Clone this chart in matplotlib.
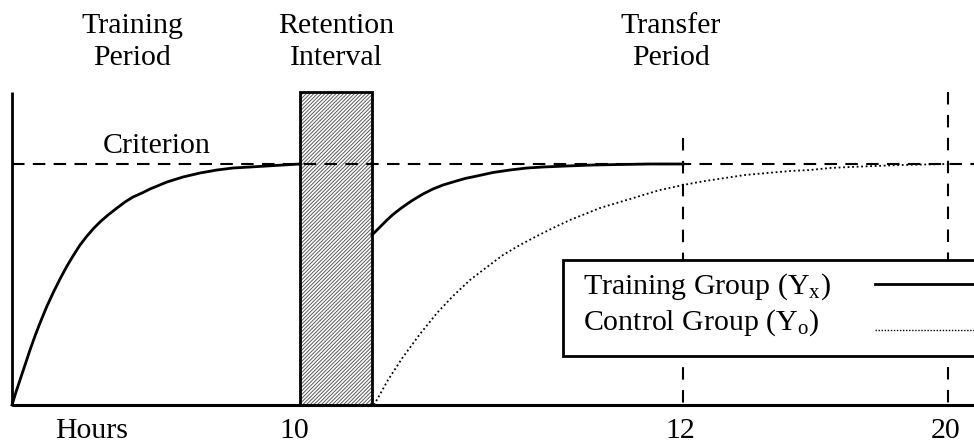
import matplotlib.pyplot as plt
from matplotlib.patches import Rectangle

plt.rcParams['font.family'] = ['Liberation Serif', 'DejaVu Serif']
plt.rcParams['mathtext.fontset'] = 'custom'
plt.rcParams['mathtext.rm'] = 'Liberation Serif'
plt.rcParams['mathtext.it'] = 'Liberation Serif'
plt.rcParams['hatch.linewidth'] = 0.7

# schematic coordinates (left->right time, top->bottom inverted performance)
base_y = 405
criterion_y = 164
top_y = 92
x0 = 12
retention = (300, 372)
marks = [683, 948]
mark_tops = [138, 92]

# training group, training period
train1_x = [12, 16, 20, 25, 30, 35, 40, 47, 54, 60, 67, 73, 80, 87, 94, 100, 108, 117, 125,
            133, 142, 150, 167, 183, 200, 217, 233, 250, 267, 283, 300]
train1_y = [405, 392, 380, 365, 350, 336, 323, 306, 291, 279, 266, 256, 245, 236, 228, 222,
            215, 208, 202, 197, 193, 189, 182, 177, 173, 170, 168, 167, 166, 165, 164]
# training group, transfer period
train2_x = [372, 380, 387, 393, 400, 407, 413, 423, 433, 443, 453, 465, 477, 493, 510, 527,
            543, 567, 593, 620, 650, 683]
train2_y = [235, 227, 220, 214.5, 209, 204, 200, 194, 189, 185, 182, 178.5, 176, 172.5, 170, 168,
            167, 166, 165, 164.5, 164, 164]
# control group
ctrl_x = [374, 388, 403, 420, 437, 453, 470, 487, 503, 520, 537, 553, 570, 585, 600, 620,
          640, 660, 683, 705, 725, 745, 767, 790, 810, 830, 850, 875, 900, 925, 947]
ctrl_y = [405, 380, 357, 334, 313, 296, 280, 267, 255, 245, 236, 228, 220, 214, 208, 202,
          196, 190, 185, 181, 178, 175, 173, 171, 170, 168, 167, 166, 165, 164.5, 164]

top_labels = ['Training\nPeriod', 'Retention\nInterval', 'Transfer\nPeriod']
top_label_x = [132, 336, 671]
bottom_labels = ['Hours', '10', '12', '20']
bottom_label_x = [92, 294, 680, 946]

fig = plt.figure(figsize=(9.74, 4.47), dpi=100)
ax = fig.add_axes([0, 0, 1, 1])
ax.set_xlim(0, 974)
ax.set_ylim(447, 0)
ax.axis('off')

fs = 21.5

# axes
ax.plot([x0, x0], [top_y, base_y], color='black', lw=2, solid_capstyle='butt')
ax.plot([x0, 974], [base_y, base_y], color='black', lw=2.2, solid_capstyle='butt')

# criterion
ax.plot([x0, 974], [criterion_y, criterion_y], color='black', lw=1.5, dashes=(6, 4))
ax.text(157, 146, 'Criterion', fontsize=fs, ha='center', va='center')

# vertical markers
for mx, mt in zip(marks, mark_tops):
    ax.plot([mx, mx], [mt, base_y], color='black', lw=1.5, dashes=(6, 5))

# retention interval
ax.add_patch(Rectangle((retention[0], top_y), retention[1] - retention[0], base_y - top_y,
                       facecolor='white', edgecolor='#5a5a5a', hatch='/////////', lw=0))
ax.add_patch(Rectangle((retention[0], top_y), retention[1] - retention[0], base_y - top_y,
                       facecolor='none', edgecolor='black', lw=2))

# curves
ax.plot(train1_x, train1_y, color='black', lw=2)
ax.plot(train2_x, train2_y, color='black', lw=2)
ax.plot(ctrl_x, ctrl_y, color='black', lw=1.3, linestyle=(0, (1, 1.5)))

# labels
for lab, lx in zip(top_labels, top_label_x):
    ax.text(lx, 42, lab, fontsize=fs, ha='center', va='center', linespacing=1.3)
for lab, lx in zip(bottom_labels, bottom_label_x):
    ax.text(lx, 431, lab, fontsize=fs, ha='center', va='center')

# legend
ax.add_patch(Rectangle((563, 260), 500, 96, facecolor='white', edgecolor='black', lw=2, zorder=5))
ax.text(583, 287, r'Training Group (Y$_{\mathrm{x}}$)', fontsize=fs, ha='left', va='center', zorder=6)
ax.text(583, 323, r'Control Group (Y$_{\mathrm{o}}$)', fontsize=fs, ha='left', va='center', zorder=6)
ax.plot([875, 974], [284, 284], color='black', lw=2, zorder=6)
ax.plot([875, 974], [330, 330], color='black', lw=1.0, linestyle=(0, (1, 1.2)), zorder=6)

fig.savefig('out.png', dpi=100)
